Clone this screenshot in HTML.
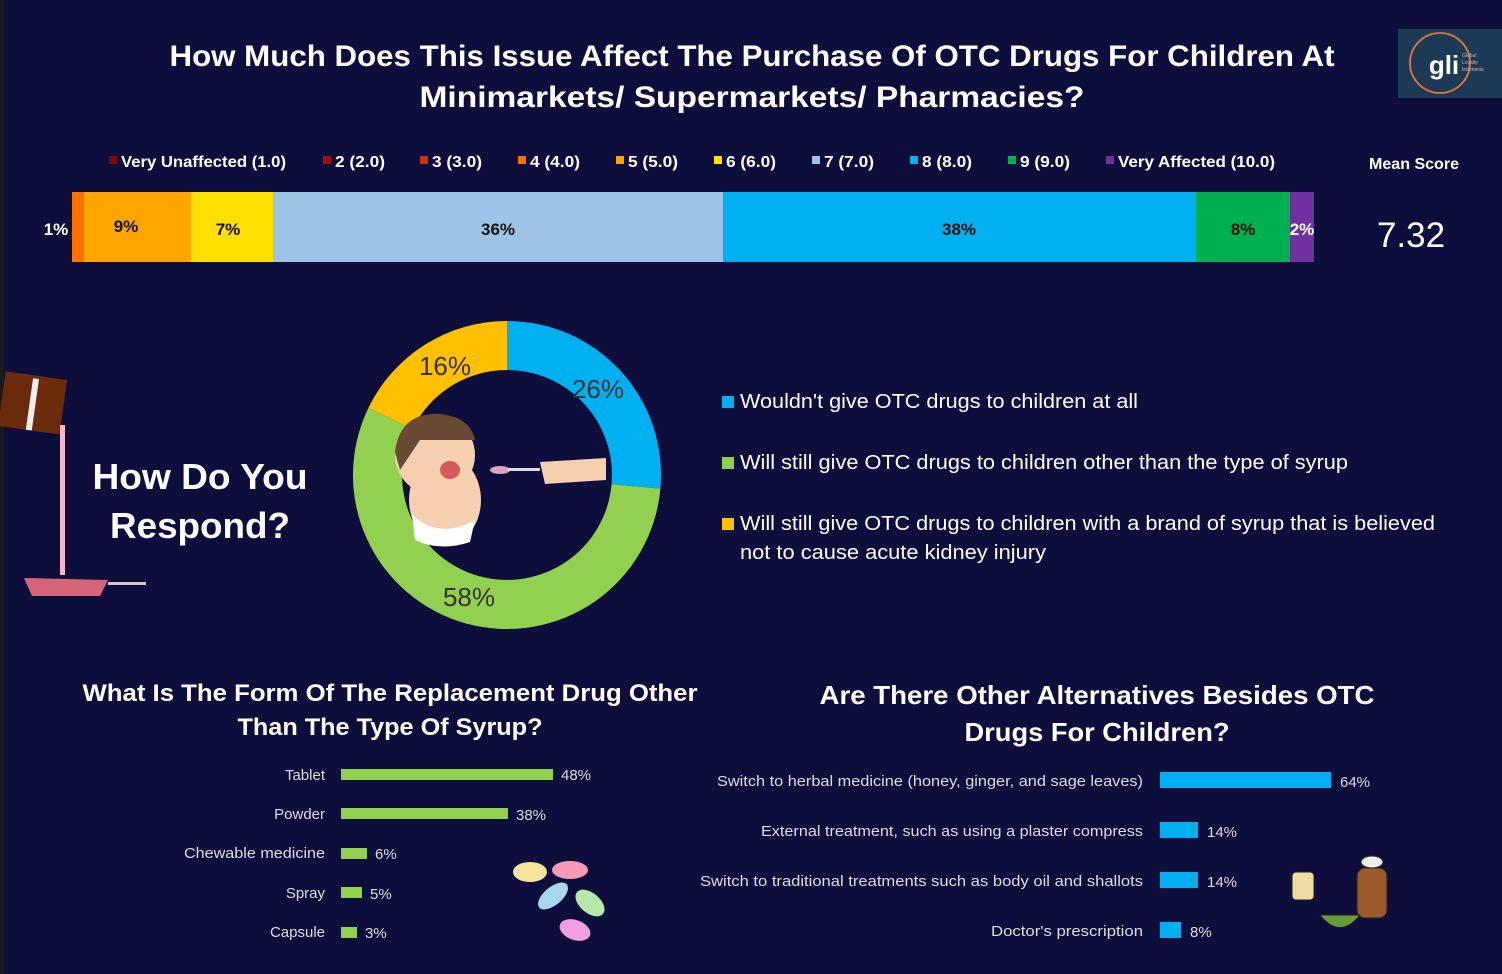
<!DOCTYPE html>
<html><head><meta charset="utf-8"><style>
html,body{margin:0;padding:0;background:#0e0e3d;}
svg{display:block;font-family:"Liberation Sans",sans-serif;}
</style></head><body>
<svg width="1502" height="974" viewBox="0 0 1502 974" xmlns="http://www.w3.org/2000/svg">
<rect width="1502" height="974" fill="#0e0e3d"/>
<rect x="0" y="0" width="4" height="974" fill="#1a1a1a"/>
<g fill="#fff" font-weight="bold" font-size="30" text-anchor="middle">
<text x="752" y="66" textLength="1165" lengthAdjust="spacingAndGlyphs">How Much Does This Issue Affect The Purchase Of OTC Drugs For Children At</text>
<text x="752" y="107" textLength="665" lengthAdjust="spacingAndGlyphs">Minimarkets/ Supermarkets/ Pharmacies?</text>
</g>
<rect x="1398" y="29" width="104" height="69" fill="#1c3a55"/>
<circle cx="1440" cy="63" r="30" fill="none" stroke="#d2733a" stroke-width="2"/>
<text x="1444" y="74" fill="#fff" font-size="26" font-weight="bold" text-anchor="middle">gli</text>
<text x="1462" y="57" fill="#bbb" font-size="5">Global</text>
<text x="1462" y="64" fill="#bbb" font-size="5">Loyalty</text>
<text x="1462" y="71" fill="#bbb" font-size="5">Indonesia</text>
<g font-size="16" font-weight="bold" fill="#fff">
<rect x="109" y="156" width="8" height="8" fill="#7b0a0a"/><text x="121" y="167" textLength="165" lengthAdjust="spacingAndGlyphs">Very Unaffected (1.0)</text>
<rect x="323" y="156" width="8" height="8" fill="#a01010"/><text x="335" y="167" textLength="50" lengthAdjust="spacingAndGlyphs">2 (2.0)</text>
<rect x="420" y="156" width="8" height="8" fill="#d03010"/><text x="432" y="167" textLength="50" lengthAdjust="spacingAndGlyphs">3 (3.0)</text>
<rect x="518" y="156" width="8" height="8" fill="#ff7000"/><text x="530" y="167" textLength="50" lengthAdjust="spacingAndGlyphs">4 (4.0)</text>
<rect x="616" y="156" width="8" height="8" fill="#ffa500"/><text x="628" y="167" textLength="50" lengthAdjust="spacingAndGlyphs">5 (5.0)</text>
<rect x="714" y="156" width="8" height="8" fill="#ffdf00"/><text x="726" y="167" textLength="50" lengthAdjust="spacingAndGlyphs">6 (6.0)</text>
<rect x="812" y="156" width="8" height="8" fill="#9dc3e6"/><text x="824" y="167" textLength="50" lengthAdjust="spacingAndGlyphs">7 (7.0)</text>
<rect x="910" y="156" width="8" height="8" fill="#00b0f0"/><text x="922" y="167" textLength="50" lengthAdjust="spacingAndGlyphs">8 (8.0)</text>
<rect x="1008" y="156" width="8" height="8" fill="#00b050"/><text x="1020" y="167" textLength="50" lengthAdjust="spacingAndGlyphs">9 (9.0)</text>
<rect x="1106" y="156" width="8" height="8" fill="#7030a0"/><text x="1118" y="167" textLength="157" lengthAdjust="spacingAndGlyphs">Very Affected (10.0)</text>
<text x="1414" y="169" text-anchor="middle" textLength="90" lengthAdjust="spacingAndGlyphs">Mean Score</text>
</g>
<rect x="72" y="192" width="12" height="70" fill="#ff7000"/>
<rect x="84" y="192" width="107" height="70" fill="#ffa500"/>
<rect x="191" y="192" width="82" height="70" fill="#ffdf00"/>
<rect x="273" y="192" width="450" height="70" fill="#9dc3e6"/>
<rect x="723" y="192" width="473" height="70" fill="#00b0f0"/>
<rect x="1196" y="192" width="94" height="70" fill="#00b050"/>
<rect x="1290" y="192" width="24" height="70" fill="#7030a0"/>
<g font-size="17" font-weight="bold" text-anchor="middle" fill="#111">
<text x="56" y="235" fill="#fff">1%</text>
<text x="126" y="232">9%</text>
<text x="228" y="235">7%</text>
<text x="498" y="235">36%</text>
<text x="959" y="235">38%</text>
<text x="1243" y="235">8%</text>
<text x="1302" y="235" fill="#fff">2%</text>
</g>
<text x="1411" y="247" fill="#fff" font-size="35" text-anchor="middle">7.32</text>
<!-- bottle -->
<rect x="2" y="375" width="62" height="55" fill="#6b2a0a" transform="rotate(8 30 400)"/>
<rect x="30" y="378" width="6" height="52" fill="#eee" transform="rotate(8 30 400)"/>
<rect x="60" y="425" width="5" height="150" fill="#f4b6c8"/>
<path d="M24 578 L108 580 L100 596 L32 596 Z" fill="#d6657a"/>
<rect x="108" y="582" width="38" height="3" fill="#ccc"/>
<g fill="#fff" font-weight="bold" font-size="36" text-anchor="middle">
<text x="200" y="489" textLength="215" lengthAdjust="spacingAndGlyphs">How Do You</text>
<text x="200" y="538" textLength="180" lengthAdjust="spacingAndGlyphs">Respond?</text>
</g>
<g transform="translate(507,475)">
<path d="M0,-154 A154,154 0 0 1 153.4,13.6 L104.6,9.3 A105,105 0 0 0 0,-105 Z" fill="#00b0f0"/>
<path d="M153.4,13.6 A154,154 0 1 1 -138.6,-67.1 L-94.5,-45.8 A105,105 0 1 0 104.6,9.3 Z" fill="#92d050"/>
<path d="M-138.6,-67.1 A154,154 0 0 1 0,-154 L0,-105 A105,105 0 0 0 -94.5,-45.8 Z" fill="#ffc000"/>
</g>
<g font-size="26" fill="#333" text-anchor="middle">
<text x="445" y="375">16%</text>
<text x="598" y="398">26%</text>
<text x="469" y="606">58%</text>
</g>
<ellipse cx="445" cy="500" rx="36" ry="45" fill="#f7d0b0"/>
<circle cx="435" cy="455" r="40" fill="#f7d0b0"/>
<path d="M395 452 Q400 412 440 414 Q470 417 475 440 L420 440 Q410 455 400 470 Z" fill="#6b4a35"/>
<ellipse cx="450" cy="470" rx="10" ry="9" fill="#d65a5a"/>
<path d="M412 515 Q440 540 475 520 L470 542 Q440 552 415 540 Z" fill="#fff"/>
<path d="M540 462 L606 458 L606 480 L545 484 Z" fill="#f7d0b0"/>
<ellipse cx="500" cy="470" rx="10" ry="4" fill="#e0a0c0"/>
<rect x="508" y="468" width="32" height="3" fill="#ddd"/>
<g font-size="20" fill="#fff">
<rect x="722" y="396" width="12" height="12" fill="#00b0f0"/><text x="740" y="408" textLength="398" lengthAdjust="spacingAndGlyphs">Wouldn't give OTC drugs to children at all</text>
<rect x="722" y="457" width="12" height="12" fill="#92d050"/><text x="740" y="469" textLength="608" lengthAdjust="spacingAndGlyphs">Will still give OTC drugs to children other than the type of syrup</text>
<rect x="722" y="518" width="12" height="12" fill="#ffc000"/><text x="740" y="530" textLength="695" lengthAdjust="spacingAndGlyphs">Will still give OTC drugs to children with a brand of syrup that is believed</text>
<text x="740" y="559" textLength="306" lengthAdjust="spacingAndGlyphs">not to cause acute kidney injury</text>
</g>
<g fill="#fff" font-weight="bold" text-anchor="middle" font-size="24">
<text x="390" y="701" textLength="615" lengthAdjust="spacingAndGlyphs">What Is The Form Of The Replacement Drug Other</text>
<text x="390" y="735" textLength="305" lengthAdjust="spacingAndGlyphs">Than The Type Of Syrup?</text>
<text x="1097" y="704" font-size="26" textLength="555" lengthAdjust="spacingAndGlyphs">Are There Other Alternatives Besides OTC</text>
<text x="1097" y="741" font-size="26" textLength="265" lengthAdjust="spacingAndGlyphs">Drugs For Children?</text>
</g>
<g font-size="15" fill="#ddd">
<g text-anchor="end">
<text x="325" y="780">Tablet</text>
<text x="325" y="819">Powder</text>
<text x="325" y="858" textLength="141" lengthAdjust="spacingAndGlyphs">Chewable medicine</text>
<text x="325" y="898">Spray</text>
<text x="325" y="937">Capsule</text>
</g>
<rect x="341" y="769" width="212" height="11" fill="#92d050"/><text x="561" y="780">48%</text>
<rect x="341" y="808" width="167" height="11" fill="#92d050"/><text x="516" y="820">38%</text>
<rect x="341" y="848" width="26" height="11" fill="#92d050"/><text x="375" y="859">6%</text>
<rect x="341" y="887" width="21" height="11" fill="#92d050"/><text x="370" y="899">5%</text>
<rect x="341" y="927" width="16" height="11" fill="#92d050"/><text x="365" y="938">3%</text>
</g>
<ellipse cx="530" cy="872" rx="17" ry="10" fill="#f7e49a"/>
<ellipse cx="570" cy="870" rx="18" ry="9" fill="#f49ab4"/>
<ellipse cx="553" cy="896" rx="18" ry="9" fill="#a8d8f0" transform="rotate(-40 553 896)"/>
<ellipse cx="590" cy="903" rx="17" ry="10" fill="#b8e8a8" transform="rotate(40 590 903)"/>
<ellipse cx="575" cy="930" rx="16" ry="10" fill="#f0a0e0" transform="rotate(20 575 930)"/>
<g font-size="15" fill="#ddd">
<g text-anchor="end">
<text x="1143" y="786" textLength="426" lengthAdjust="spacingAndGlyphs">Switch to herbal medicine (honey, ginger, and sage leaves)</text>
<text x="1143" y="836" textLength="382" lengthAdjust="spacingAndGlyphs">External treatment, such as using a plaster compress</text>
<text x="1143" y="886" textLength="443" lengthAdjust="spacingAndGlyphs">Switch to traditional treatments such as body oil and shallots</text>
<text x="1143" y="936" textLength="152" lengthAdjust="spacingAndGlyphs">Doctor's prescription</text>
</g>
<rect x="1160" y="772" width="171" height="16" fill="#00b0f0"/><text x="1340" y="787">64%</text>
<rect x="1160" y="822" width="38" height="16" fill="#00b0f0"/><text x="1207" y="837">14%</text>
<rect x="1160" y="872" width="38" height="16" fill="#00b0f0"/><text x="1207" y="887">14%</text>
<rect x="1160" y="922" width="21" height="16" fill="#00b0f0"/><text x="1190" y="937">8%</text>
</g>
<rect x="1292" y="872" width="22" height="28" rx="4" fill="#f0dca0" stroke="#222"/>
<rect x="1357" y="868" width="30" height="50" rx="8" fill="#9a5a2a" stroke="#222"/>
<ellipse cx="1372" cy="862" rx="11" ry="6" fill="#eee" stroke="#222"/>
<path d="M1320 915 Q1340 940 1360 915 Z" fill="#6a9a3a" stroke="#222"/>
</svg>
</body></html>
